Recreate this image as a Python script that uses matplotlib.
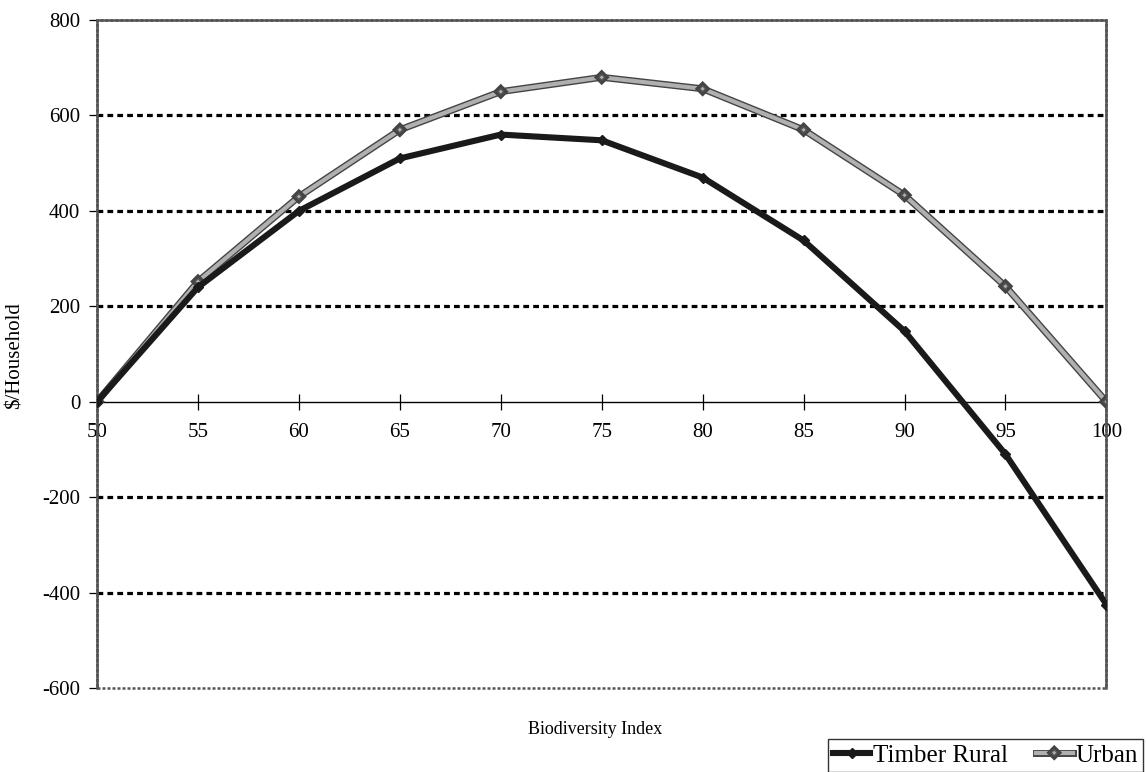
import matplotlib.pyplot as plt
import matplotlib.patheffects as pe
from matplotlib.patches import Rectangle


biodiversity = [50, 55, 60, 65, 70, 75, 80, 85, 90, 95, 100]
timber_rural = [0, 240, 400, 510, 560, 548, 470, 338, 148, -110, -425]
urban = [0, 252, 430, 570, 650, 680, 656, 570, 433, 242, 0]

y_ticks = [-600, -400, -200, 0, 200, 400, 600, 800]
grid_values = [-400, -200, 200, 400, 600]


def draw_chart():
    plt.rcParams["font.family"] = ["Liberation Serif", "DejaVu Serif"]
    plt.rcParams["axes.unicode_minus"] = False
    fig = plt.figure(figsize=(11.47, 7.72), dpi=100)
    ax = fig.add_axes([0.0846, 0.1088, 0.880, 0.8652])
    ax.set_xlim(50, 100)
    ax.set_ylim(-600, 800)

    # plot-area frame in grey dots, x axis crossing at zero
    frame_style = dict(linestyle=(0, (1.2, 0.8)), color="#555555", linewidth=1.8)
    for side in ("top", "right", "left"):
        ax.spines[side].set_linestyle(frame_style["linestyle"])
        ax.spines[side].set_color(frame_style["color"])
        ax.spines[side].set_linewidth(frame_style["linewidth"])
    ax.add_patch(Rectangle((0, 0), 1, 1, transform=ax.transAxes, fill=False,
                           linestyle=frame_style["linestyle"],
                           edgecolor=frame_style["color"],
                           linewidth=frame_style["linewidth"],
                           clip_on=False, zorder=1))
    ax.spines["bottom"].set_position(("data", 0))
    ax.spines["bottom"].set_linewidth(1.0)
    ax.spines["bottom"].set_zorder(2)

    for val in grid_values:
        ax.axhline(val, color="black", linewidth=2.3,
                   linestyle=(0, (1.8, 1.3)), zorder=1)

    ax.set_xticks(biodiversity)
    ax.set_yticks(y_ticks)
    ax.tick_params(axis="x", direction="inout", length=12, width=0.9,
                   labelsize=15, pad=9)
    ax.tick_params(axis="y", direction="out", length=6, width=0.9,
                   labelsize=15, pad=6)

    ax.plot(biodiversity, urban, color="#b0b0b0", linewidth=3.0,
            marker="D", markersize=3, markerfacecolor="#b0b0b0",
            markeredgecolor="#555555", zorder=4,
            path_effects=[pe.Stroke(linewidth=5.0, foreground="#444444"),
                          pe.Normal()],
            label="Urban")
    ax.plot(biodiversity, timber_rural, color="#1a1a1a", linewidth=4.4,
            marker="D", markersize=5, markerfacecolor="#1a1a1a",
            markeredgecolor="#1a1a1a", zorder=5, label="Timber Rural")

    ax.set_xlabel("Biodiversity Index", fontsize=13)
    ax.xaxis.set_label_coords(0.493, -0.05)
    ax.set_ylabel("$/Household", fontsize=15)
    ax.yaxis.set_label_coords(-0.072, 0.497)

    handles, labels = ax.get_legend_handles_labels()
    leg = fig.legend(handles[::-1], labels[::-1], loc="upper left",
                     bbox_to_anchor=(828 / 1147, 1 - 739 / 772), ncol=2,
                     fontsize=18, frameon=True, fancybox=False,
                     handlelength=1.5, handletextpad=0.1, columnspacing=1.1,
                     borderpad=0.2, borderaxespad=0)
    leg.get_frame().set_edgecolor("black")
    leg.get_frame().set_linewidth(1.0)

    fig.savefig("out.png", dpi=100)
    plt.close(fig)


if __name__ == "__main__":
    draw_chart()
